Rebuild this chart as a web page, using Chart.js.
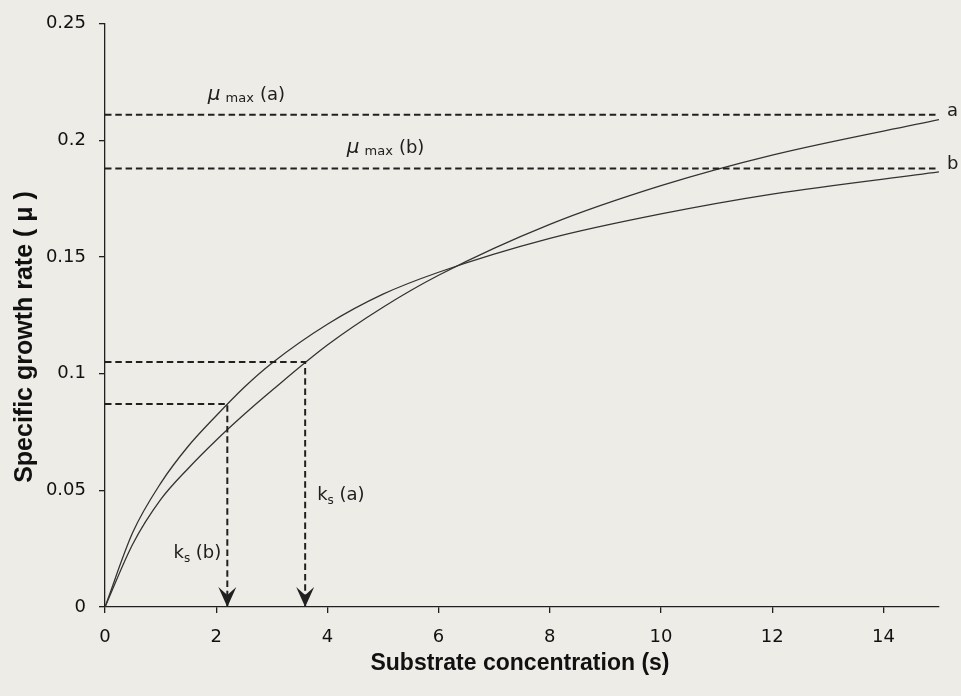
<!DOCTYPE html>
<html>
<head>
<meta charset="utf-8">
<title>Specific growth rate vs substrate concentration</title>
<script src="https://cdn.jsdelivr.net/npm/chart.js@4.4.1/dist/chart.umd.min.js"></script>
<style>
  html, body { margin: 0; padding: 0; background: #edece7; }
  #wrap { width: 961px; height: 696px; }
</style>
</head>
<body>
<div id="wrap"><canvas id="monod"></canvas></div>
<script>
// substrate concentration (s) at which the two curves are sampled
const substrate = [0, 0.5, 1, 1.5, 2, 2.5, 3, 4, 5, 6, 8, 10, 12, 15];
// specific growth rate for organism a and organism b
const rateA = [0, 0.027, 0.046, 0.0595, 0.0715, 0.0825, 0.0928, 0.1123, 0.1285, 0.1422, 0.1640, 0.1806, 0.1937, 0.2089];
const rateB = [0, 0.032, 0.053, 0.069, 0.082, 0.0941, 0.1045, 0.1212, 0.1341, 0.1435, 0.1580, 0.1685, 0.1770, 0.1865];

// saturation rates and half-saturation constants, [a, b]
const muMax = [0.211, 0.188];
const ks = [3.6, 2.2];
const ksRate = [0.105, 0.087];
const curveNames = ["a", "b"];

const xMax = 15;
const xTickLabels = ["0", "2", "4", "6", "8", "10", "12", "14"];
const yTickLabels = ["0", "0.05", "0.1", "0.15", "0.2", "0.25"];

const ink = "#202020";
const lineInk = "#333333";
const tickFont = { family: "'DejaVu Sans'", size: 18 };

const toPoints = (ys) => substrate.map((s, i) => ({ x: s, y: ys[i] }));

function dashed(points) {
  return {
    data: points,
    showLine: true,
    borderColor: ink,
    borderWidth: 2,
    borderDash: [6.5, 3.8],
    pointRadius: 0,
    fill: false
  };
}

function curve(points) {
  return {
    data: points,
    showLine: true,
    borderColor: lineInk,
    borderWidth: 1.3,
    pointRadius: 0,
    cubicInterpolationMode: "monotone",
    fill: false
  };
}

// background, arrows, labels and axis titles
const decorations = {
  id: "decorations",
  beforeDraw(chart) {
    const ctx = chart.ctx;
    ctx.save();
    ctx.fillStyle = "#edece7";
    ctx.fillRect(0, 0, chart.width, chart.height);
    ctx.restore();
  },
  afterDatasetsDraw(chart) {
    const ctx = chart.ctx;
    const xs = chart.scales.x;
    const ys = chart.scales.y;
    ctx.save();
    ctx.fillStyle = ink;

    // arrow heads at the foot of each ks line
    ks.forEach((k) => {
      const px = xs.getPixelForValue(k);
      const py = ys.getPixelForValue(0);
      ctx.beginPath();
      ctx.moveTo(px, py);
      ctx.lineTo(px - 9, py - 20);
      ctx.lineTo(px, py - 12);
      ctx.lineTo(px + 9, py - 20);
      ctx.closePath();
      ctx.fill();
    });

    // mu max labels above the dashed lines
    const muLeft = [1.85, 4.35];
    muMax.forEach((m, i) => {
      let px = xs.getPixelForValue(muLeft[i]);
      const base = ys.getPixelForValue(m) - 15;
      ctx.textBaseline = "alphabetic";
      ctx.textAlign = "left";
      ctx.font = "italic 20px 'DejaVu Sans'";
      ctx.fillText("\u03bc", px, base);
      px += ctx.measureText("\u03bc").width + 5;
      ctx.font = "13px 'DejaVu Sans'";
      ctx.fillText("max", px, base + 2);
      px += ctx.measureText("max").width + 6;
      ctx.font = "18px 'DejaVu Sans'";
      ctx.fillText("(" + curveNames[i] + ")", px, base);
    });

    // curve names at the right end of the mu max lines
    ctx.font = "18px 'DejaVu Sans'";
    muMax.forEach((m, i) => {
      ctx.fillText(curveNames[i], xs.getPixelForValue(xMax) + 8, ys.getPixelForValue(m) + 1);
    });

    // ks labels beside the vertical dashed lines
    const ksBase = [500, 558];
    ks.forEach((k, i) => {
      const sub = "(" + curveNames[i] + ")";
      ctx.font = "18px 'DejaVu Sans'";
      const wk = ctx.measureText("k").width;
      const wp = ctx.measureText(" " + sub).width;
      ctx.font = "12px 'DejaVu Sans'";
      const ws = ctx.measureText("s").width;
      const total = wk + ws + wp;
      const vx = xs.getPixelForValue(k);
      let px = i === 0 ? vx + 12 : vx - 6 - total;
      ctx.font = "18px 'DejaVu Sans'";
      ctx.fillText("k", px, ksBase[i]);
      px += wk;
      ctx.font = "12px 'DejaVu Sans'";
      ctx.fillText("s", px, ksBase[i] + 4);
      px += ws;
      ctx.font = "18px 'DejaVu Sans'";
      ctx.fillText(" " + sub, px, ksBase[i]);
    });
    ctx.restore();
  },
  afterDraw(chart) {
    const ctx = chart.ctx;
    const area = chart.chartArea;
    ctx.save();
    ctx.fillStyle = "#111111";
    ctx.textAlign = "center";
    ctx.textBaseline = "alphabetic";
    ctx.font = "bold 23px 'Liberation Sans'";
    ctx.fillText("Substrate concentration (s)", (area.left + area.right) / 2 - 2, 670);
    ctx.translate(32, 337);
    ctx.rotate(-Math.PI / 2);
    ctx.font = "bold 25px 'Liberation Sans'";
    ctx.fillText("Specific growth rate ( \u03bc )", 0, 0);
    ctx.restore();
  }
};

new Chart(document.getElementById("monod"), {
  type: "scatter",
  data: {
    datasets: [
      dashed([{ x: 0, y: muMax[0] }, { x: xMax, y: muMax[0] }]),
      dashed([{ x: 0, y: muMax[1] }, { x: xMax, y: muMax[1] }]),
      dashed([{ x: 0, y: ksRate[0] }, { x: ks[0], y: ksRate[0] }, { x: ks[0], y: 0 }]),
      dashed([{ x: 0, y: ksRate[1] }, { x: ks[1], y: ksRate[1] }, { x: ks[1], y: 0 }]),
      curve(toPoints(rateA)),
      curve(toPoints(rateB))
    ]
  },
  options: {
    responsive: true,
    maintainAspectRatio: false,
    animation: false,
    layout: { padding: { left: 0, top: 22, right: 22, bottom: 0 } },
    plugins: {
      legend: { display: false },
      tooltip: { enabled: false }
    },
    scales: {
      x: {
        type: "linear",
        min: 0,
        max: xMax,
        afterFit: (scale) => { scale.height = 89; },
        border: { display: true, color: ink, width: 1.3 },
        grid: { display: true, drawOnChartArea: false, drawTicks: true, tickLength: 6, color: ink, lineWidth: 1.3 },
        ticks: {
          stepSize: 2,
          includeBounds: false,
          maxRotation: 0,
          padding: 14,
          color: "#111111",
          font: tickFont,
          callback: (v, i) => xTickLabels[i]
        }
      },
      y: {
        type: "linear",
        min: 0,
        max: 0.25,
        afterFit: (scale) => { scale.width = 105; },
        border: { display: true, color: ink, width: 1.3 },
        grid: { display: true, drawOnChartArea: false, drawTicks: true, tickLength: 6, color: ink, lineWidth: 1.3 },
        ticks: {
          stepSize: 0.05,
          padding: 13,
          color: "#111111",
          font: tickFont,
          callback: (v, i) => yTickLabels[i]
        }
      }
    }
  },
  plugins: [decorations]
});
</script>
</body>
</html>
